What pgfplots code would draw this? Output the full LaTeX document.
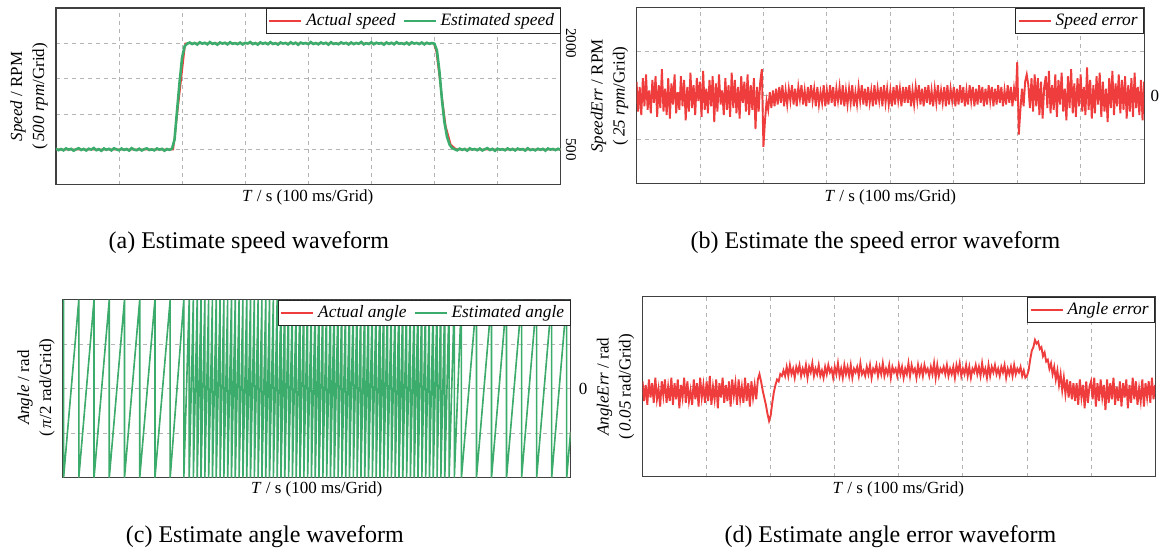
\documentclass[border=0pt]{standalone}
\usepackage{fontspec}
\setmainfont{Liberation Serif}
\usepackage{pgfplots}
\usepackage{pgfplotstable}
\pgfplotsset{compat=1.18}
\definecolor{sred}{RGB}{239,60,60}
\definecolor{sgreen}{RGB}{60,172,108}
\definecolor{gridgray}{RGB}{180,180,180}
\pgfplotsset{panel/.style={
  scale only axis, anchor=north west,
  xmin=0, xmax=800, xtick={100,200,...,700}, xticklabels={},
  major tick length=0pt,
  axis line style={black!75, line width=0.6pt},
  grid style={gridgray, line width=0.45pt, dash pattern=on 2pt off 2pt},
  xmajorgrids, ymajorgrids,
  yticklabel pos=right,
  /pgf/number format/assume math mode=true,
  yticklabel style={font=\fontsize{8.5}{9}\selectfont, inner sep=1pt},
  legend style={at={(1,1)}, anchor=north east, draw=black!85, line width=0.5pt, fill=white,
    font=\itshape\fontsize{8.7}{10}\selectfont, inner xsep=1pt, inner ysep=0.5pt,
    /tikz/every even column/.append style={column sep=1.5pt}},
  legend image code/.code={\draw[##1, line width=1pt] (0pt,0pt) -- (16pt,0pt);},
}}
% (a) estimated speed, 4 ms per sample
\pgfplotstableread[row sep=\\, header=false]{
512\\491\\506\\488\\515\\497\\509\\484\\503\\518\\
493\\508\\486\\511\\499\\521\\490\\505\\482\\514\\
496\\509\\487\\517\\502\\489\\513\\494\\507\\485\\
519\\498\\490\\511\\486\\505\\516\\493\\502\\488\\
514\\497\\509\\483\\506\\495\\512\\
640\\1050\\1450\\1800\\1960\\1995\\
2012\\1991\\2006\\1984\\2015\\1996\\2008\\1987\\2018\\1993\\
2005\\1982\\2013\\1997\\2009\\1986\\2016\\1994\\2003\\1989\\
2011\\1985\\2007\\1998\\2019\\1990\\2004\\1983\\2014\\1995\\
2008\\1988\\2017\\1992\\2002\\1984\\2012\\1997\\2006\\1986\\
2015\\1993\\2009\\1981\\2011\\1996\\2005\\1989\\2018\\1991\\
2004\\1987\\2013\\1995\\2008\\1983\\2016\\1992\\2001\\1988\\
2014\\1997\\2007\\1985\\2012\\1990\\2006\\1994\\2019\\1986\\
2003\\1991\\2015\\1988\\2009\\1996\\2005\\1982\\2013\\1993\\
2008\\1987\\2017\\1995\\2002\\1989\\2011\\1984\\2014\\1997\\
2006\\1990\\2012\\1986\\2009\\1994\\2004\\
1995\\1900\\1600\\1200\\880\\680\\570\\520\\505\\
488\\512\\495\\508\\484\\516\\499\\507\\490\\513\\
486\\505\\519\\493\\509\\482\\511\\497\\504\\489\\
515\\494\\508\\487\\513\\498\\506\\485\\517\\492\\
503\\488\\511\\496\\509\\484\\514\\499\\507\\491\\
510\\496\\
}\tblA
% (b) speed error, 2.5 ms per sample
\pgfplotstableread[row sep=\\, header=false]{
8\\-9\\5\\-11\\10\\-6\\12\\-8\\3\\-10\\
9\\-4\\11\\-12\\6\\-7\\15\\-9\\4\\-11\\
10\\-13\\7\\-5\\12\\-10\\2\\-8\\11\\-6\\
9\\-14\\5\\-9\\13\\-7\\6\\-11\\10\\-3\\
8\\-12\\14\\-8\\4\\-10\\9\\-6\\11\\-15\\
7\\-9\\12\\-5\\3\\-11\\10\\-8\\6\\-12\\
13\\-7\\9\\-10\\5\\-13\\11\\-4\\8\\-9\\
12\\-11\\6\\-8\\10\\-19\\5\\-9\\8\\15\\
-29\\-14\\-3\\-8\\2\\-7\\3\\-6\\4\\-5\\
5\\-4\\6\\-6\\3\\-5\\4\\-3\\6\\-5\\
4\\-6\\5\\-2\\6\\-5\\3\\-6\\5\\-4\\
6\\-3\\4\\-6\\5\\-5\\2\\-4\\6\\-6\\
3\\-5\\6\\-4\\5\\-6\\4\\-3\\5\\-5\\
6\\-6\\3\\-5\\4\\-4\\6\\-6\\2\\-5\\
5\\-3\\6\\-5\\4\\-6\\5\\-4\\3\\-6\\
6\\-5\\4\\-3\\5\\-6\\6\\-4\\4\\-5\\
3\\-6\\5\\-5\\6\\-3\\4\\-6\\5\\-4\\
5\\-4\\6\\-6\\3\\-5\\5\\-3\\6\\-5\\
4\\-6\\5\\-4\\6\\-5\\3\\-6\\4\\-4\\
6\\-5\\3\\-4\\5\\-6\\6\\-5\\4\\-3\\
5\\-6\\4\\-5\\6\\-4\\5\\-6\\3\\-5\\
6\\-3\\5\\-6\\4\\-5\\6\\-4\\5\\-6\\
4\\-5\\6\\-3\\5\\-6\\4\\-5\\6\\-4\\
5\\-6\\3\\-5\\6\\-4\\5\\-6\\4\\-3\\
19\\-22\\-8\\4\\-6\\8\\12\\6\\-7\\10\\
-9\\12\\-6\\10\\-11\\8\\-13\\5\\11\\-7\\
14\\-10\\6\\-8\\12\\-12\\9\\-5\\13\\-9\\
4\\-14\\11\\-7\\15\\-10\\7\\-12\\10\\-6\\
12\\-9\\5\\-11\\16\\-8\\9\\-13\\6\\-10\\
11\\-5\\13\\-12\\8\\-9\\4\\-15\\10\\-7\\
14\\-11\\7\\-6\\12\\-10\\9\\-8\\11\\-13\\
6\\-9\\10\\-12\\13\\-7\\5\\-11\\9\\-14\\
8\\
}\tblB
% (c) angle, rad
\pgfplotstableread[row sep=\\]{
x y\\
0 2.88\\1 3.1416\\1 -3.1416\\
25 3.1416\\25 -3.1416\\49 3.1416\\49 -3.1416\\73 3.1416\\73 -3.1416\\
97 3.1416\\97 -3.1416\\121 3.1416\\121 -3.1416\\145 3.1416\\145 -3.1416\\
169 3.1416\\169 -3.1416\\190.5 3.1416\\190.5 -3.1416\\199 3.1416\\199 -3.1416\\
205.5 3.1416\\205.5 -3.1416\\
211.6 3.1416\\211.6 -3.1416\\217.6 3.1416\\217.6 -3.1416\\223.6 3.1416\\223.6 -3.1416\\229.6 3.1416\\229.6 -3.1416\\
235.6 3.1416\\235.6 -3.1416\\241.6 3.1416\\241.6 -3.1416\\247.6 3.1416\\247.6 -3.1416\\253.6 3.1416\\253.6 -3.1416\\
259.6 3.1416\\259.6 -3.1416\\265.6 3.1416\\265.6 -3.1416\\271.6 3.1416\\271.6 -3.1416\\277.6 3.1416\\277.6 -3.1416\\
283.6 3.1416\\283.6 -3.1416\\289.6 3.1416\\289.6 -3.1416\\295.6 3.1416\\295.6 -3.1416\\301.6 3.1416\\301.6 -3.1416\\
307.6 3.1416\\307.6 -3.1416\\313.6 3.1416\\313.6 -3.1416\\319.6 3.1416\\319.6 -3.1416\\325.6 3.1416\\325.6 -3.1416\\
331.6 3.1416\\331.6 -3.1416\\337.6 3.1416\\337.6 -3.1416\\343.6 3.1416\\343.6 -3.1416\\349.6 3.1416\\349.6 -3.1416\\
355.6 3.1416\\355.6 -3.1416\\361.6 3.1416\\361.6 -3.1416\\367.6 3.1416\\367.6 -3.1416\\373.6 3.1416\\373.6 -3.1416\\
379.6 3.1416\\379.6 -3.1416\\385.6 3.1416\\385.6 -3.1416\\391.6 3.1416\\391.6 -3.1416\\397.6 3.1416\\397.6 -3.1416\\
403.6 3.1416\\403.6 -3.1416\\409.6 3.1416\\409.6 -3.1416\\415.6 3.1416\\415.6 -3.1416\\421.6 3.1416\\421.6 -3.1416\\
427.6 3.1416\\427.6 -3.1416\\433.6 3.1416\\433.6 -3.1416\\439.6 3.1416\\439.6 -3.1416\\445.6 3.1416\\445.6 -3.1416\\
451.6 3.1416\\451.6 -3.1416\\457.6 3.1416\\457.6 -3.1416\\463.6 3.1416\\463.6 -3.1416\\469.6 3.1416\\469.6 -3.1416\\
475.6 3.1416\\475.6 -3.1416\\481.6 3.1416\\481.6 -3.1416\\487.6 3.1416\\487.6 -3.1416\\493.6 3.1416\\493.6 -3.1416\\
499.6 3.1416\\499.6 -3.1416\\505.6 3.1416\\505.6 -3.1416\\511.6 3.1416\\511.6 -3.1416\\517.6 3.1416\\517.6 -3.1416\\
523.6 3.1416\\523.6 -3.1416\\529.6 3.1416\\529.6 -3.1416\\535.6 3.1416\\535.6 -3.1416\\541.6 3.1416\\541.6 -3.1416\\
547.6 3.1416\\547.6 -3.1416\\553.6 3.1416\\553.6 -3.1416\\559.6 3.1416\\559.6 -3.1416\\565.6 3.1416\\565.6 -3.1416\\
571.6 3.1416\\571.6 -3.1416\\577.6 3.1416\\577.6 -3.1416\\583.6 3.1416\\583.6 -3.1416\\589.6 3.1416\\589.6 -3.1416\\
595.6 3.1416\\595.6 -3.1416\\601.8 3.1416\\601.8 -3.1416\\608.6 3.1416\\608.6 -3.1416\\616.8 3.1416\\616.8 -3.1416\\
628 3.1416\\628 -3.1416\\651.7 3.1416\\651.7 -3.1416\\675.4 3.1416\\675.4 -3.1416\\699.1 3.1416\\699.1 -3.1416\\
722.8 3.1416\\722.8 -3.1416\\746.5 3.1416\\746.5 -3.1416\\770.2 3.1416\\770.2 -3.1416\\793.9 3.1416\\793.9 -3.1416\\
800 -1.52\\
}\tblC
% (d) angle error, mrad, 2.5 ms per sample
\pgfplotstableread[row sep=\\, header=false]{
3\\-8\\1\\-10\\4\\-6\\2\\-9\\5\\-7\\
-1\\-11\\3\\-5\\4\\-9\\0\\-8\\5\\-10\\
2\\-7\\4\\-12\\1\\-6\\5\\-9\\3\\-8\\
-2\\-10\\4\\-7\\2\\-11\\5\\-6\\1\\-9\\
3\\-8\\6\\-10\\0\\-7\\4\\-12\\2\\-6\\
5\\-9\\1\\-8\\3\\-11\\4\\-5\\2\\-10\\
4\\-7\\0\\-9\\5\\-8\\2\\-11\\3\\-6\\
1\\-7\\4\\7\\3\\-2\\-6\\-10\\-15\\-19\\
-16\\-9\\-3\\1\\4\\3\\7\\6\\9\\6\\
11\\6\\12\\7\\10\\5\\11\\8\\12\\6\\
10\\7\\12\\5\\11\\8\\13\\6\\10\\7\\
12\\6\\9\\5\\11\\7\\12\\8\\10\\5\\
11\\7\\13\\6\\10\\5\\12\\7\\11\\6\\
12\\5\\10\\8\\11\\6\\13\\7\\9\\6\\
11\\7\\12\\5\\10\\8\\12\\6\\11\\7\\
13\\6\\10\\7\\12\\5\\11\\8\\10\\6\\
12\\7\\11\\5\\10\\7\\13\\6\\12\\8\\
10\\5\\12\\7\\11\\6\\12\\8\\10\\6\\
11\\7\\13\\5\\12\\6\\10\\8\\11\\7\\
12\\6\\10\\7\\11\\5\\12\\8\\13\\6\\
10\\7\\12\\6\\11\\5\\10\\8\\12\\7\\
11\\6\\13\\7\\10\\5\\12\\6\\11\\8\\
12\\7\\10\\6\\11\\8\\12\\5\\10\\7\\
11\\6\\12\\7\\10\\8\\11\\6\\9\\5\\
6\\9\\15\\20\\22\\26\\24\\25\\21\\22\\
17\\19\\14\\15\\10\\13\\7\\11\\4\\9\\
1\\7\\-2\\5\\-4\\4\\-6\\3\\-7\\2\\
-8\\2\\-10\\4\\-6\\1\\-12\\3\\-9\\0\\
3\\-7\\5\\-11\\2\\-8\\4\\-6\\1\\-13\\
4\\-9\\2\\-7\\5\\-10\\0\\-8\\3\\-11\\
2\\-6\\4\\-12\\1\\-9\\5\\-7\\3\\-10\\
-1\\-8\\4\\-11\\2\\-6\\3\\-9\\5\\-7\\
1\\
}\tblD
\begin{document}
\begin{tikzpicture}
\path (0,0) rectangle (580.5pt,-275pt);
% (a)
\begin{axis}[panel, at={(28pt,-4pt)}, width=252.5pt, height=88.5pt,
  ymin=0, ymax=2500, ytick={500,1000,1500,2000}, yticklabels={500,,,2000},
  yticklabel style={rotate=-90, anchor=south, yshift=1.5pt, font=\fontsize{7.5}{8}\selectfont},
  legend columns=2]
\addplot[sred, line width=0.8pt] coordinates {(0,500) (186,500) (205,2000) (599,2000) (603,1880) (610,1380) (618,830) (626,570) (634,508) (640,500) (800,500)};
\addlegendentry{Actual speed}
\addplot[sgreen, line width=1.3pt] table[x expr=\coordindex*4, y index=0] {\tblA};
\addlegendentry{Estimated speed}
\end{axis}
% (b)
\begin{axis}[panel, at={(318.5pt,-3.75pt)}, width=254pt, height=88.25pt,
  ymin=-50, ymax=50, ytick={-25,0,25}, yticklabels={,0,},
  yticklabel style={xshift=2pt}]
\addplot[sred, line width=0.95pt] table[x expr=\coordindex*2.5, y index=0] {\tblB};
\addlegendentry{Speed error}
\end{axis}
% (c)
\begin{axis}[panel, at={(31.5pt,-150pt)}, width=254pt, height=89pt,
  ymin=-3.1416, ymax=3.1416, ytick={-1.5708,0,1.5708}, yticklabels={,0,},
  yticklabel style={xshift=3pt},
  xmajorgrids=false, legend columns=2]
\addplot[sred, line width=0.25pt] table[x=x, y=y] {\tblC};
\addlegendentry{Actual angle}
\addplot[sgreen, line width=0.8pt] table[x=x, y=y] {\tblC};
\addlegendentry{Estimated angle}
\end{axis}
% (d)
\begin{axis}[panel, at={(321.5pt,-148.5pt)}, width=256.5pt, height=90pt,
  ymin=-50, ymax=50, ytick={0}, yticklabels={}]
\addplot[sred, line width=0.95pt] table[x expr=\coordindex*2.5, y index=0] {\tblD};
\addlegendentry{Angle error}
\end{axis}
% axis titles
\begin{scope}[every node/.style={font=\fontsize{8.5}{11}\selectfont, align=center}]
\node at (154pt,-99pt) {\textit{T} / s (100 ms/Grid)};
\node at (445.5pt,-99pt) {\textit{T} / s (100 ms/Grid)};
\node at (158.5pt,-245pt) {\textit{T} / s (100 ms/Grid)};
\node at (449.5pt,-245pt) {\textit{T} / s (100 ms/Grid)};
\node[rotate=90] at (14.5pt,-48.25pt) {\textit{Speed} / RPM\\(\,\textit{500 rpm}/Grid)};
\node[rotate=90] at (305pt,-48pt) {\textit{SpeedErr} / RPM\\(\,\textit{25 rpm}/Grid)};
\node[rotate=90] at (18pt,-194pt) {\textit{Angle} / rad\\(\,\textit{π}/2 rad/Grid)};
\node[rotate=90] at (308pt,-193.5pt) {\textit{AngleErr} / rad\\(\,\textit{0.05} rad/Grid)};
\end{scope}
% captions
\begin{scope}[every node/.style={font=\fontsize{12}{14}\selectfont}]
\node at (124.5pt,-121.5pt) {(a) Estimate speed waveform};
\node at (438pt,-121.5pt) {(b) Estimate the speed error waveform};
\node at (132.5pt,-268.5pt) {(c) Estimate angle waveform};
\node at (445.5pt,-268.5pt) {(d) Estimate angle error waveform};
\end{scope}
\end{tikzpicture}
\end{document}
